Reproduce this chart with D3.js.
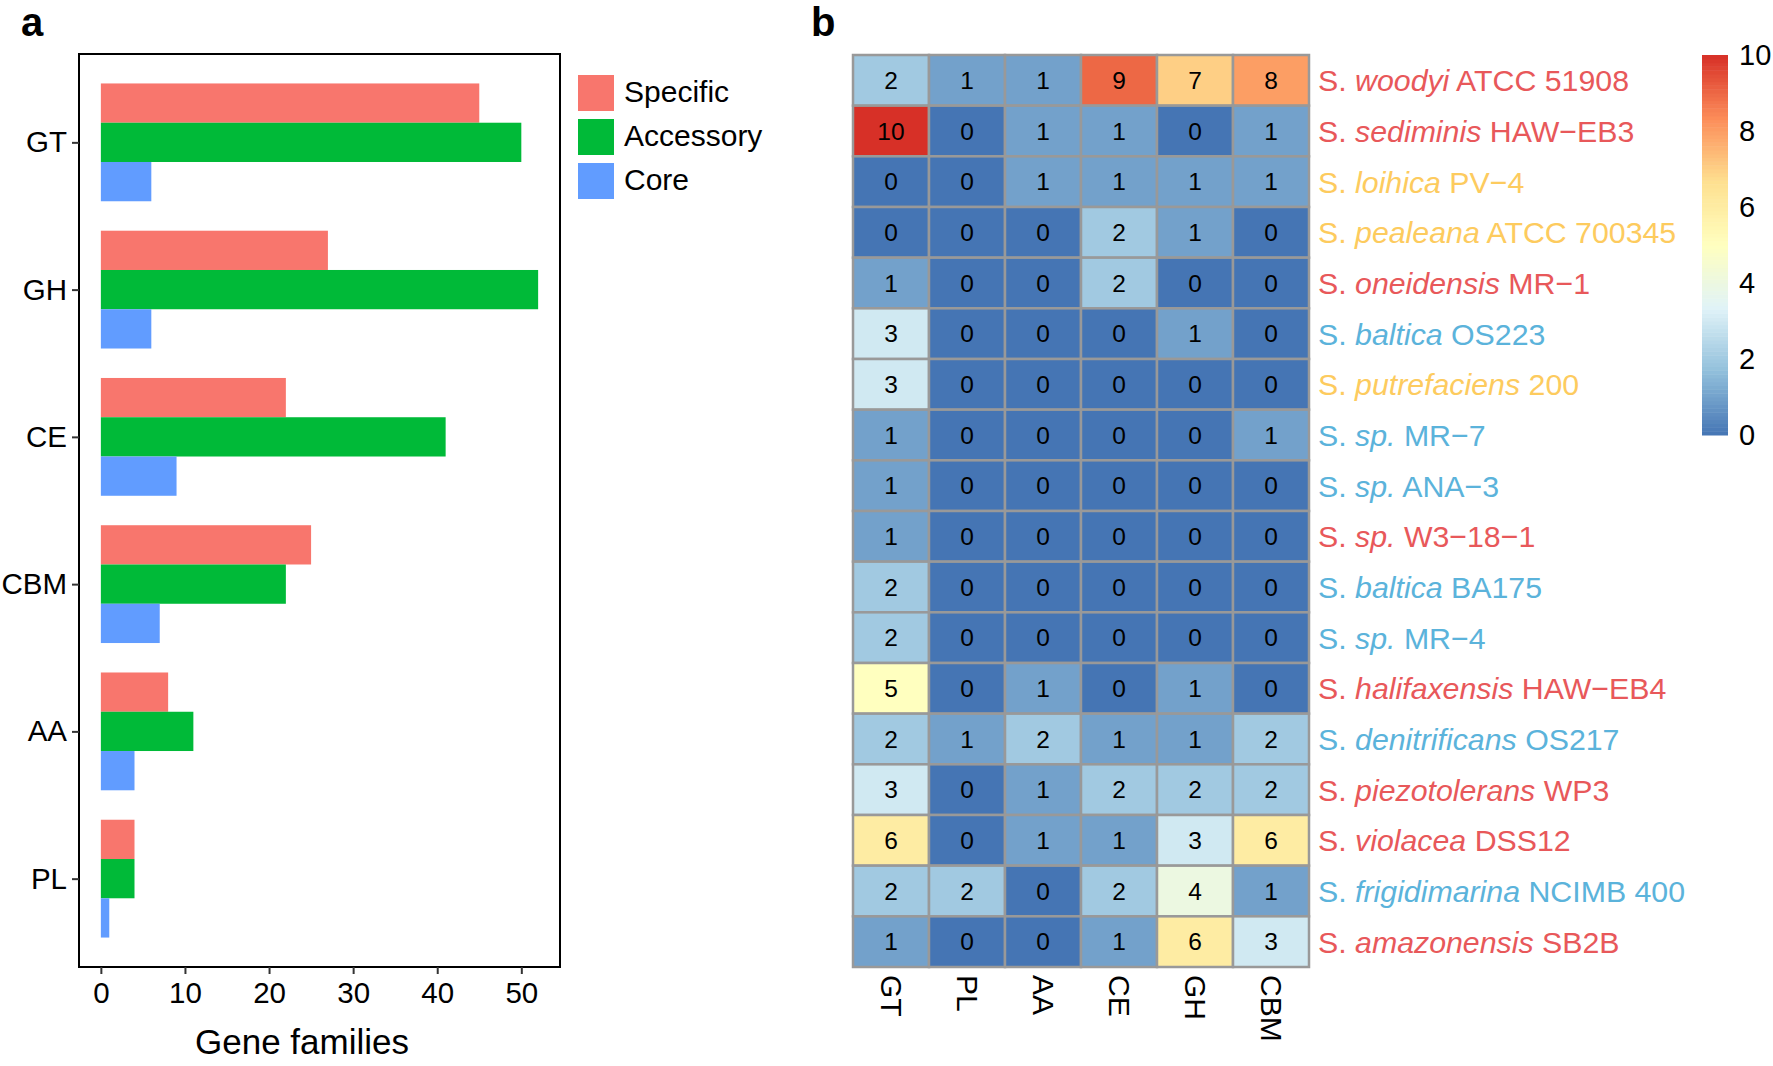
<!DOCTYPE html>
<html>
<head>
<meta charset="utf-8">
<script src="https://cdn.jsdelivr.net/npm/d3@7"></script>
<style>
  html, body { margin: 0; padding: 0; background: #fff; }
  svg { display: block; font-family: "Liberation Sans", Arial, Helvetica, sans-serif; }
</style>
</head>
<body>
<svg id="chart" width="1773" height="1066"></svg>
<script>
// ---------- Panel a data ----------
const barCategories = ["GT", "GH", "CE", "CBM", "AA", "PL"];
const barSeries = ["Specific", "Accessory", "Core"];
const specificValues = [45, 27, 22, 25, 8, 4];
const accessoryValues = [50, 52, 41, 22, 11, 4];
const coreValues = [6, 6, 9, 7, 4, 1];
const barColors = ["#F8766D", "#00BA38", "#619CFF"];
const barXTicks = [0, 10, 20, 30, 40, 50];

// ---------- Panel b data ----------
const heatColumns = ["GT", "PL", "AA", "CE", "GH", "CBM"];
const speciesNames = ["woodyi", "sediminis", "loihica", "pealeana", "oneidensis", "baltica",
  "putrefaciens", "sp.", "sp.", "sp.", "baltica", "sp.", "halifaxensis", "denitrificans",
  "piezotolerans", "violacea", "frigidimarina", "amazonensis"];
const strainNames = ["ATCC 51908", "HAW\u2212EB3", "PV\u22124", "ATCC 700345", "MR\u22121", "OS223",
  "200", "MR\u22127", "ANA\u22123", "W3\u221218\u22121", "BA175", "MR\u22124", "HAW\u2212EB4", "OS217",
  "WP3", "DSS12", "NCIMB 400", "SB2B"];
const labelGroups = ["red", "red", "yellow", "yellow", "red", "blue", "yellow", "blue", "blue",
  "red", "blue", "blue", "red", "blue", "red", "red", "blue", "red"];
const heatValues = [
  [2, 1, 1, 9, 7, 8],
  [10, 0, 1, 1, 0, 1],
  [0, 0, 1, 1, 1, 1],
  [0, 0, 0, 2, 1, 0],
  [1, 0, 0, 2, 0, 0],
  [3, 0, 0, 0, 1, 0],
  [3, 0, 0, 0, 0, 0],
  [1, 0, 0, 0, 0, 1],
  [1, 0, 0, 0, 0, 0],
  [1, 0, 0, 0, 0, 0],
  [2, 0, 0, 0, 0, 0],
  [2, 0, 0, 0, 0, 0],
  [5, 0, 1, 0, 1, 0],
  [2, 1, 2, 1, 1, 2],
  [3, 0, 1, 2, 2, 2],
  [6, 0, 1, 1, 3, 6],
  [2, 2, 0, 2, 4, 1],
  [1, 0, 0, 1, 6, 3]
];
const legendTicks = [0, 2, 4, 6, 8, 10];
const paletteStops = ["#4575B4", "#91BFDB", "#E0F3F8", "#FFFFBF", "#FEE090", "#FC8D59", "#D73027"];
const groupColors = { red: "#E8585A", yellow: "#FDCB5E", blue: "#5BB3DB" };

const svg = d3.select("#chart");
const FONT = "'Liberation Sans', Arial, sans-serif";

// ================= Panel a =================
const A = { x0: 79, x1: 560, y0: 54, y1: 967 };
const seriesValues = [specificValues, accessoryValues, coreValues];

const x = d3.scaleLinear().domain([-2.6, 54.6]).range([A.x0, A.x1]);
const y = d3.scalePoint().domain(barCategories).range([A.y0, A.y1]).padding(0.6);
const step = y.step();
const sub = d3.scaleBand().domain(barSeries).range([-0.4 * step, 0.4 * step]);

const gA = svg.append("g");

barSeries.forEach((s, si) => {
  gA.append("g").selectAll("rect")
    .data(barCategories.map((c, i) => ({ c, v: seriesValues[si][i] })))
    .join("rect")
    .attr("x", x(0))
    .attr("y", d => y(d.c) + sub(s))
    .attr("width", d => x(d.v) - x(0))
    .attr("height", sub.bandwidth())
    .attr("fill", barColors[si]);
});

// panel border
gA.append("rect")
  .attr("x", A.x0).attr("y", A.y0)
  .attr("width", A.x1 - A.x0).attr("height", A.y1 - A.y0)
  .attr("fill", "none").attr("stroke", "#000").attr("stroke-width", 2);

// y axis
const yAxis = d3.axisLeft(y).tickSize(7).tickPadding(5);
const gy = gA.append("g").attr("transform", `translate(${A.x0},0)`).call(yAxis);
gy.select(".domain").remove();
gy.selectAll("line").attr("stroke", "#333").attr("stroke-width", 2);
gy.selectAll("text").attr("font-size", 29.5).attr("fill", "#000").attr("font-family", FONT);

// x axis
const xAxis = d3.axisBottom(x).tickValues(barXTicks).tickSize(7).tickPadding(8);
const gx = gA.append("g").attr("transform", `translate(0,${A.y1})`).call(xAxis);
gx.select(".domain").remove();
gx.selectAll("line").attr("stroke", "#333").attr("stroke-width", 2);
gx.selectAll("text").attr("font-size", 29.5).attr("fill", "#000").attr("font-family", FONT);

gA.append("text")
  .attr("x", 302).attr("y", 1054)
  .attr("text-anchor", "middle").attr("font-size", 35).attr("fill", "#000")
  .text("Gene families");

// legend
const lg = gA.append("g");
barSeries.forEach((s, i) => {
  lg.append("rect").attr("x", 578).attr("y", 75 + i * 44)
    .attr("width", 36).attr("height", 36).attr("fill", barColors[i]);
  lg.append("text").attr("x", 624).attr("y", 91 + i * 44)
    .attr("dominant-baseline", "central").attr("font-size", 30).attr("fill", "#000")
    .text(s);
});

// panel label
svg.append("text").attr("x", 21).attr("y", 36).attr("font-size", 40)
  .attr("font-weight", "bold").text("a");

// ================= Panel b =================
const B = { x0: 853, x1: 1309, y0: 55, y1: 967 };
const rowIdx = d3.range(heatValues.length);
const hx = d3.scaleBand().domain(heatColumns).range([B.x0, B.x1]);
const hy = d3.scaleBand().domain(rowIdx).range([B.y0, B.y1]);

const colorScale = d3.scaleLinear()
  .domain(d3.range(paletteStops.length).map(i => i * 10 / (paletteStops.length - 1)))
  .range(paletteStops)
  .interpolate(d3.interpolateRgb);

const cells = [];
heatValues.forEach((row, r) => row.forEach((v, c) => cells.push({ r, col: heatColumns[c], v })));

const gB = svg.append("g");
gB.selectAll("rect.cell").data(cells).join("rect")
  .attr("class", "cell")
  .attr("x", d => hx(d.col)).attr("y", d => hy(d.r))
  .attr("width", hx.bandwidth()).attr("height", hy.bandwidth())
  .attr("fill", d => colorScale(d.v))
  .attr("stroke", "#999999").attr("stroke-width", 2.5);

gB.selectAll("text.num").data(cells).join("text")
  .attr("class", "num")
  .attr("x", d => hx(d.col) + hx.bandwidth() / 2)
  .attr("y", d => hy(d.r) + hy.bandwidth() / 2)
  .attr("text-anchor", "middle").attr("dominant-baseline", "central")
  .attr("font-size", 24.5).attr("fill", "#000")
  .text(d => d.v);

// row labels
const rl = gB.selectAll("text.rowlab").data(rowIdx).join("text")
  .attr("class", "rowlab")
  .attr("x", B.x1 + 9)
  .attr("y", d => hy(d) + hy.bandwidth() / 2)
  .attr("dominant-baseline", "central")
  .attr("font-size", 30.3)
  .attr("fill", d => groupColors[labelGroups[d]]);
rl.append("tspan").text("S. ");
rl.append("tspan").attr("font-style", "italic").text(d => speciesNames[d]);
rl.append("tspan").text(d => " " + strainNames[d]);

// column labels
gB.selectAll("text.collab").data(heatColumns).join("text")
  .attr("class", "collab")
  .attr("transform", d => `translate(${hx(d) + hx.bandwidth() / 2},${B.y1 + 8}) rotate(90)`)
  .attr("dominant-baseline", "central")
  .attr("font-size", 30).attr("fill", "#000")
  .text(d => d);

// color legend
const L = { x0: 1702, x1: 1728, yTop: 53, yBot: 435 };
const ly = d3.scaleLinear().domain([0, 10]).range([L.yBot, L.yTop + 2]);
const nStripes = 100;
const stripeData = d3.range(nStripes).map(i => ({ lo: i * 10 / nStripes, hi: (i + 1) * 10 / nStripes }));
gB.append("g").selectAll("rect").data(stripeData).join("rect")
  .attr("x", L.x0).attr("width", L.x1 - L.x0)
  .attr("y", d => ly(d.hi))
  .attr("height", d => ly(d.lo) - ly(d.hi) + 0.5)
  .attr("fill", d => colorScale((d.lo + d.hi) / 2));

const lAxis = d3.axisRight(ly).tickValues(legendTicks).tickSize(0).tickPadding(11);
const gl = gB.append("g").attr("transform", `translate(${L.x1},0)`).call(lAxis);
gl.select(".domain").remove();
gl.selectAll("text").attr("font-size", 29).attr("fill", "#000").attr("font-family", FONT);

svg.append("text").attr("x", 811).attr("y", 36).attr("font-size", 40)
  .attr("font-weight", "bold").text("b");
</script>
</body>
</html>
